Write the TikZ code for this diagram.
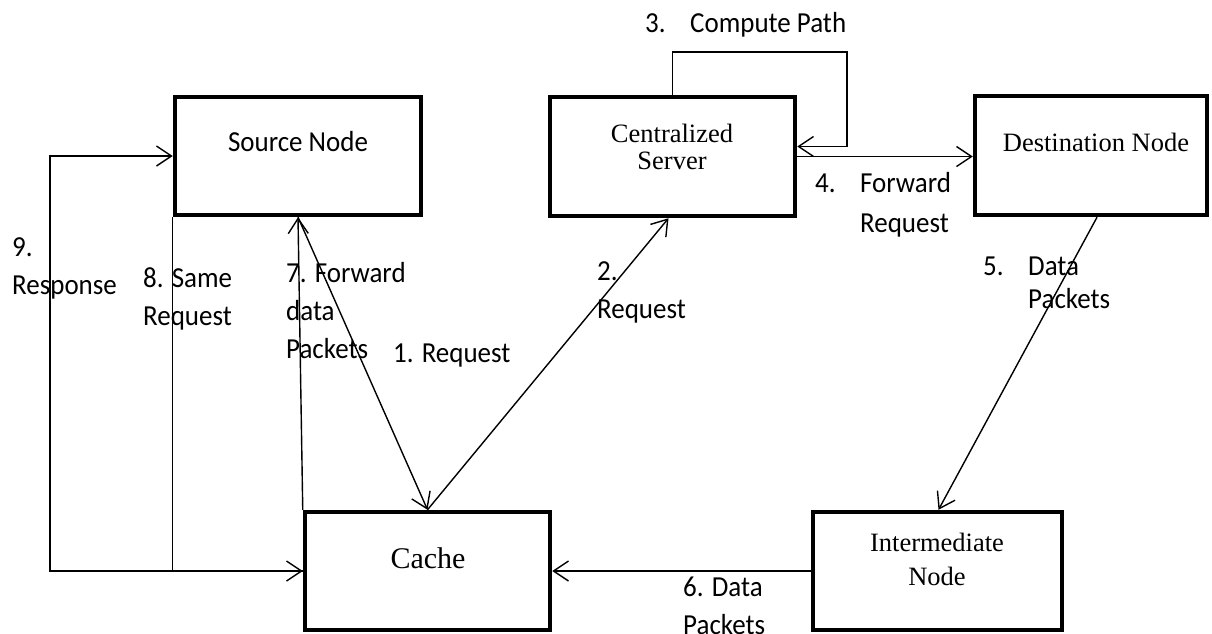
\documentclass[tikz,border=0pt]{standalone}
\usepackage{fontspec}
\setmainfont{Liberation Serif}
\newfontfamily\labfont[FakeStretch=0.93]{Carlito}
\usetikzlibrary{arrows.meta,calc}

\begin{document}
\begin{tikzpicture}[x=1pt,y=-1pt,
  box/.style={draw, line width=4.5pt, rectangle, inner sep=0pt},
  conn/.style={line width=1.4pt, -{Straight Barb[length=15pt,width=20pt]}},
  lab/.style={font=\labfont\fontsize{29}{38}\selectfont, inner sep=0pt, anchor=base west, align=left},
  ser/.style={font=\fontsize{26.5}{30}\selectfont, inner sep=0pt, anchor=base},
]
\useasboundingbox (0,0) rectangle (1212,633);

% boxes
\node[box, minimum width=246pt, minimum height=118pt] (src)   at (298,156)   {};
\node[box, minimum width=245pt, minimum height=119pt] (srv)   at (672.5,156.5) {};
\node[box, minimum width=232pt, minimum height=119pt] (dst)   at (1091,155.5) {};
\node[box, minimum width=245pt, minimum height=118pt] (cache) at (427.5,571) {};
\node[box, minimum width=249pt, minimum height=118pt] (mid)   at (937.5,571) {};

% box texts
\node[lab, anchor=base] (srcT) at (298,151) {Source Node};
\node[ser] (srvT1) at (672,142) {Centralized};
\node[ser] (srvT2) at (672,169) {Server};
\node[ser] (dstT) at (1096,151) {Destination Node};
\node[ser, font=\fontsize{30}{34}\selectfont] (cacheT) at (428,568) {Cache};
\node[ser] (midT1) at (937,551) {Intermediate};
\node[ser] (midT2) at (937,585) {Node};

% helper points
\coordinate (cp) at (847,52);
\coordinate (resp) at (50,300);

% connectors
\draw[conn] (src.south) -- (cache.north);
\draw[conn] (cache.north) -- ($(srv.south)+(-4,0)$);
\draw[conn] (srv.north) |- (cp) |- ($(srv.east)+(0,-10)$);
\draw[conn] (srv.east) -- (srv.east -| dst.west);
\draw[conn] ($(dst.south)+(6,0)$) -- ($(mid.north)+(1,0)$);
\draw[conn] (mid.west) -- (cache.east);
\draw[conn] (cache.north west) -- (src.south);
\draw[conn] (src.south west) |- (cache.west);
\draw[conn] (cache.west) -| (resp) |- (src.west);

% step labels (multi-line labels are placed by their last baseline)
\node[lab] (l3a) at (645,32) {3.};
\node[lab] (l3b) at (690,32) {Compute Path};
\node[lab] (l4a) at (815,192) {4.};
\node[lab] (l4b) at (860,232) {Forward\\[2pt]Request};
\node[lab] (l5a) at (983,275) {5.};
\node[lab] (l5b) at (1028,308) {Data\\[-5pt]Packets};
\node[lab] (l6) at (683,634) {6. Data\\Packets};
\node[lab] (l7) at (286,358) {7. Forward\\data\\Packets};
\node[lab] (l8) at (143,325) {8. Same\\Request};
\node[lab] (l9) at (12,294) {9.\\Response};
\node[lab] (l1) at (393,362) {1. Request};
\node[lab] (l2) at (597,318) {2.\\Request};
\end{tikzpicture}
\end{document}
